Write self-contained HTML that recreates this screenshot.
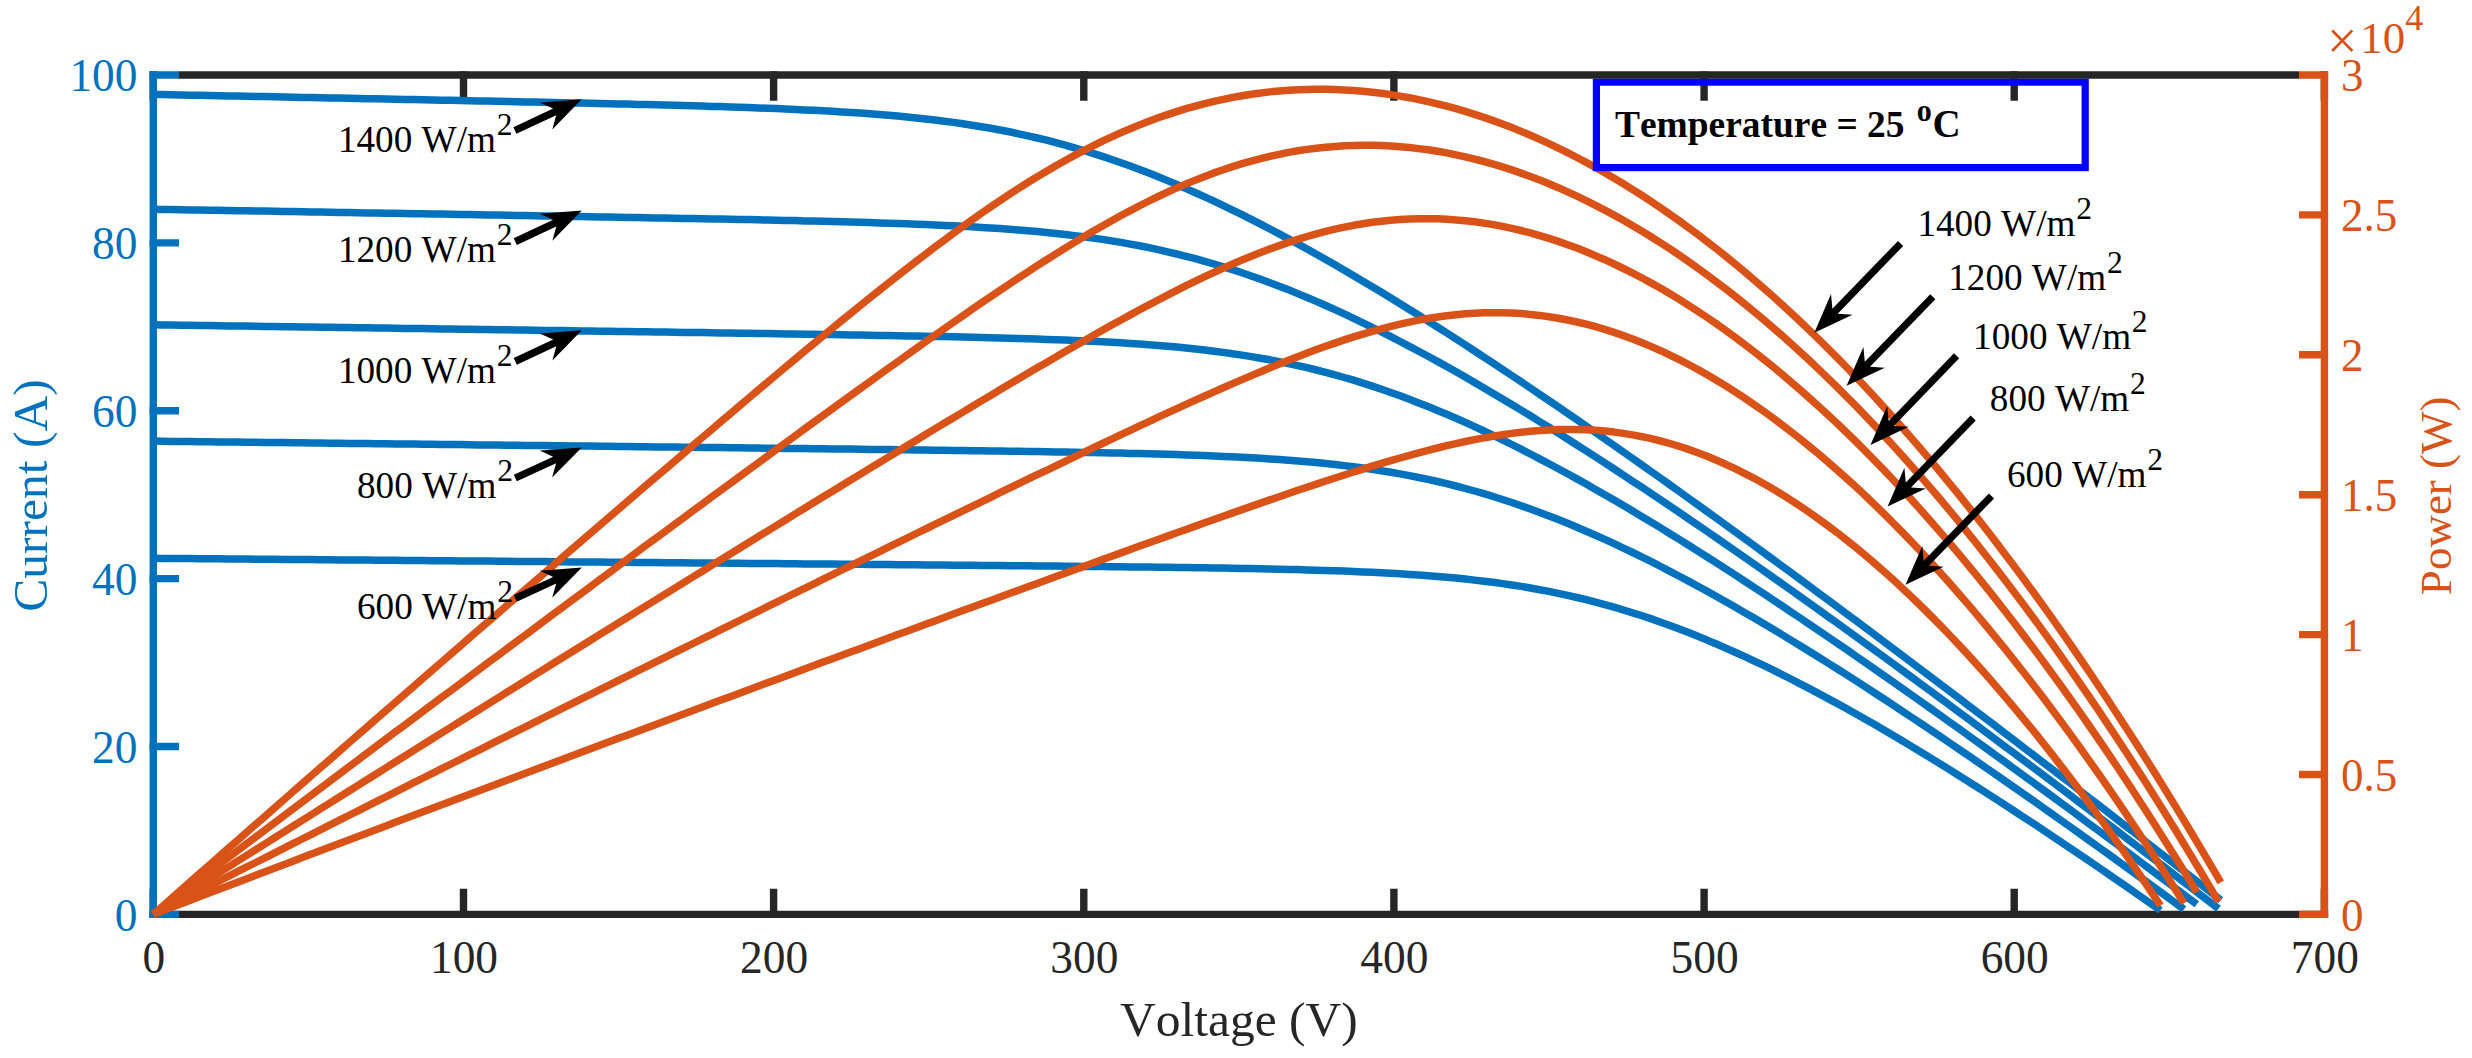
<!DOCTYPE html>
<html lang="en"><head><meta charset="utf-8"><title>PV array I-V and P-V characteristics</title>
<style>html,body{margin:0;padding:0;background:#fff}body{width:2472px;height:1058px;overflow:hidden}svg{display:block}text{font-family:"Liberation Serif","Times New Roman",Times,serif;font-kerning:none;font-variant-ligatures:none}</style></head><body>
<svg width="2472" height="1058" viewBox="0 0 2472 1058">
<rect width="2472" height="1058" fill="#fff"/>
<g stroke="#262626" stroke-width="7.4" fill="none">
<path d="M149.6 914.4 H2328.1"/>
<path d="M153.3 918.1 V888.7 M153.3 71.3 V100.7 M463.5 918.1 V888.7 M463.5 71.3 V100.7 M773.6 918.1 V888.7 M773.6 71.3 V100.7 M1083.8 918.1 V888.7 M1083.8 71.3 V100.7 M1393.9 918.1 V888.7 M1393.9 71.3 V100.7 M1704.1 918.1 V888.7 M1704.1 71.3 V100.7 M2014.2 918.1 V888.7 M2014.2 71.3 V100.7 M2324.4 918.1 V888.7 M2324.4 71.3 V100.7"/>
</g>
<g stroke="#0072BD" stroke-width="7.4" fill="none">
<path d="M153.3 71.3 V918.1"/>
<path d="M149.6 914.4 H179.0 M149.6 746.5 H179.0 M149.6 578.6 H179.0 M149.6 410.8 H179.0 M149.6 242.9 H179.0 M149.6 75.0 H179.0"/>
</g>
<g stroke="#D95319" stroke-width="7.4" fill="none">
<path d="M2324.4 71.3 V918.1"/>
<path d="M2328.1 914.4 H2299.0 M2328.1 774.5 H2299.0 M2328.1 634.6 H2299.0 M2328.1 494.7 H2299.0 M2328.1 354.8 H2299.0 M2328.1 214.9 H2299.0 M2328.1 75.0 H2299.0"/>
</g>
<g stroke="#0072BD" stroke-width="7.5" fill="none" stroke-linejoin="round">
<path d="M153.3 558.3 L162.6 558.4 L171.9 558.4 L181.2 558.5 L190.5 558.6 L199.8 558.7 L209.1 558.8 L218.4 558.8 L227.7 558.9 L237.0 559.0 L246.3 559.1 L255.7 559.2 L265.0 559.2 L274.3 559.3 L283.6 559.4 L292.9 559.5 L302.2 559.6 L311.5 559.6 L320.8 559.7 L330.1 559.8 L339.4 559.9 L348.7 559.9 L358.0 560.0 L367.3 560.1 L376.6 560.2 L385.9 560.3 L395.2 560.3 L404.5 560.4 L413.8 560.5 L423.1 560.6 L432.4 560.7 L441.7 560.7 L451.1 560.8 L460.4 560.9 L469.7 561.0 L479.0 561.1 L488.3 561.1 L497.6 561.2 L506.9 561.3 L516.2 561.4 L525.5 561.5 L534.8 561.5 L544.1 561.6 L553.4 561.7 L562.7 561.8 L572.0 561.9 L581.3 561.9 L590.6 562.0 L599.9 562.1 L609.2 562.2 L618.5 562.3 L627.8 562.3 L637.1 562.4 L646.4 562.5 L655.8 562.6 L665.1 562.7 L674.4 562.7 L683.7 562.8 L693.0 562.9 L702.3 563.0 L711.6 563.1 L720.9 563.1 L730.2 563.2 L739.5 563.3 L748.8 563.4 L758.1 563.5 L767.4 563.5 L776.7 563.6 L786.0 563.7 L795.3 563.8 L804.6 563.9 L813.9 563.9 L823.2 564.0 L832.5 564.1 L841.8 564.2 L851.2 564.3 L860.5 564.3 L869.8 564.4 L879.1 564.5 L888.4 564.6 L897.7 564.7 L907.0 564.8 L916.3 564.8 L925.6 564.9 L934.9 565.0 L944.2 565.1 L953.5 565.2 L962.8 565.3 L972.1 565.3 L981.4 565.4 L990.7 565.5 L1000.0 565.6 L1009.3 565.7 L1018.6 565.8 L1027.9 565.8 L1037.2 565.9 L1046.6 566.0 L1055.9 566.1 L1065.2 566.2 L1074.5 566.3 L1083.8 566.4 L1093.1 566.5 L1102.4 566.6 L1111.7 566.7 L1121.0 566.8 L1130.3 566.9 L1139.6 567.0 L1148.9 567.1 L1158.2 567.2 L1167.5 567.3 L1176.8 567.4 L1186.1 567.6 L1195.4 567.7 L1204.7 567.8 L1214.0 568.0 L1223.3 568.1 L1232.6 568.3 L1242.0 568.4 L1251.3 568.6 L1260.6 568.8 L1269.9 569.0 L1279.2 569.2 L1288.5 569.4 L1297.8 569.6 L1307.1 569.9 L1316.4 570.2 L1325.7 570.4 L1335.0 570.8 L1344.3 571.1 L1353.6 571.5 L1362.9 571.9 L1372.2 572.3 L1381.5 572.7 L1390.8 573.2 L1400.1 573.8 L1409.4 574.4 L1418.7 575.0 L1428.0 575.7 L1437.4 576.4 L1446.7 577.2 L1456.0 578.1 L1465.3 579.0 L1474.6 580.1 L1483.9 581.2 L1493.2 582.3 L1502.5 583.6 L1511.8 585.0 L1521.1 586.4 L1530.4 588.0 L1539.7 589.7 L1549.0 591.4 L1558.3 593.3 L1567.6 595.4 L1576.9 597.5 L1586.2 599.7 L1595.5 602.1 L1604.8 604.6 L1614.1 607.2 L1623.4 610.0 L1632.7 612.8 L1642.1 615.8 L1651.4 618.9 L1660.7 622.2 L1670.0 625.5 L1679.3 629.0 L1688.6 632.6 L1697.9 636.3 L1707.2 640.1 L1716.5 644.0 L1725.8 648.1 L1735.1 652.2 L1744.4 656.4 L1753.7 660.8 L1763.0 665.2 L1772.3 669.7 L1781.6 674.3 L1790.9 679.0 L1800.2 683.8 L1809.5 688.6 L1818.8 693.6 L1828.1 698.6 L1837.5 703.6 L1846.8 708.8 L1856.1 714.0 L1865.4 719.3 L1874.7 724.6 L1884.0 730.0 L1893.3 735.5 L1902.6 741.0 L1911.9 746.6 L1921.2 752.2 L1930.5 757.9 L1939.8 763.6 L1949.1 769.4 L1958.4 775.2 L1967.7 781.1 L1977.0 787.0 L1986.3 792.9 L1995.6 798.9 L2004.9 804.9 L2014.2 811.0 L2023.5 817.1 L2032.9 823.2 L2042.2 829.4 L2051.5 835.6 L2060.8 841.8 L2070.1 848.1 L2079.4 854.4 L2088.7 860.7 L2098.0 867.0 L2107.3 873.4 L2116.6 879.8 L2125.9 886.2 L2135.2 892.7 L2144.5 899.2 L2153.8 905.7 L2160.5 910.4"/>
<path d="M153.3 441.1 L162.6 441.3 L171.9 441.4 L181.2 441.5 L190.5 441.6 L199.8 441.7 L209.1 441.8 L218.4 441.9 L227.7 442.0 L237.0 442.1 L246.3 442.2 L255.7 442.3 L265.0 442.4 L274.3 442.5 L283.6 442.6 L292.9 442.7 L302.2 442.8 L311.5 443.0 L320.8 443.1 L330.1 443.2 L339.4 443.3 L348.7 443.4 L358.0 443.5 L367.3 443.6 L376.6 443.7 L385.9 443.8 L395.2 443.9 L404.5 444.0 L413.8 444.1 L423.1 444.2 L432.4 444.3 L441.7 444.4 L451.1 444.5 L460.4 444.6 L469.7 444.8 L479.0 444.9 L488.3 445.0 L497.6 445.1 L506.9 445.2 L516.2 445.3 L525.5 445.4 L534.8 445.5 L544.1 445.6 L553.4 445.7 L562.7 445.8 L572.0 445.9 L581.3 446.0 L590.6 446.1 L599.9 446.2 L609.2 446.3 L618.5 446.5 L627.8 446.6 L637.1 446.7 L646.4 446.8 L655.8 446.9 L665.1 447.0 L674.4 447.1 L683.7 447.2 L693.0 447.3 L702.3 447.4 L711.6 447.5 L720.9 447.6 L730.2 447.7 L739.5 447.8 L748.8 447.9 L758.1 448.1 L767.4 448.2 L776.7 448.3 L786.0 448.4 L795.3 448.5 L804.6 448.6 L813.9 448.7 L823.2 448.8 L832.5 448.9 L841.8 449.0 L851.2 449.1 L860.5 449.3 L869.8 449.4 L879.1 449.5 L888.4 449.6 L897.7 449.7 L907.0 449.8 L916.3 449.9 L925.6 450.1 L934.9 450.2 L944.2 450.3 L953.5 450.4 L962.8 450.5 L972.1 450.7 L981.4 450.8 L990.7 450.9 L1000.0 451.0 L1009.3 451.2 L1018.6 451.3 L1027.9 451.5 L1037.2 451.6 L1046.6 451.7 L1055.9 451.9 L1065.2 452.1 L1074.5 452.2 L1083.8 452.4 L1093.1 452.6 L1102.4 452.8 L1111.7 452.9 L1121.0 453.1 L1130.3 453.4 L1139.6 453.6 L1148.9 453.8 L1158.2 454.1 L1167.5 454.3 L1176.8 454.6 L1186.1 454.9 L1195.4 455.3 L1204.7 455.6 L1214.0 456.0 L1223.3 456.4 L1232.6 456.8 L1242.0 457.3 L1251.3 457.8 L1260.6 458.3 L1269.9 458.9 L1279.2 459.5 L1288.5 460.2 L1297.8 460.9 L1307.1 461.7 L1316.4 462.6 L1325.7 463.5 L1335.0 464.5 L1344.3 465.6 L1353.6 466.7 L1362.9 468.0 L1372.2 469.3 L1381.5 470.7 L1390.8 472.3 L1400.1 473.9 L1409.4 475.6 L1418.7 477.5 L1428.0 479.4 L1437.4 481.5 L1446.7 483.7 L1456.0 486.0 L1465.3 488.5 L1474.6 491.0 L1483.9 493.7 L1493.2 496.5 L1502.5 499.5 L1511.8 502.5 L1521.1 505.7 L1530.4 509.0 L1539.7 512.4 L1549.0 515.9 L1558.3 519.6 L1567.6 523.3 L1576.9 527.2 L1586.2 531.2 L1595.5 535.2 L1604.8 539.4 L1614.1 543.7 L1623.4 548.1 L1632.7 552.5 L1642.1 557.1 L1651.4 561.7 L1660.7 566.5 L1670.0 571.3 L1679.3 576.2 L1688.6 581.1 L1697.9 586.2 L1707.2 591.3 L1716.5 596.5 L1725.8 601.7 L1735.1 607.0 L1744.4 612.4 L1753.7 617.8 L1763.0 623.3 L1772.3 628.8 L1781.6 634.4 L1790.9 640.1 L1800.2 645.8 L1809.5 651.5 L1818.8 657.3 L1828.1 663.1 L1837.5 669.0 L1846.8 674.9 L1856.1 680.9 L1865.4 686.9 L1874.7 693.0 L1884.0 699.0 L1893.3 705.1 L1902.6 711.3 L1911.9 717.5 L1921.2 723.7 L1930.5 729.9 L1939.8 736.2 L1949.1 742.5 L1958.4 748.8 L1967.7 755.2 L1977.0 761.6 L1986.3 768.0 L1995.6 774.4 L2004.9 780.9 L2014.2 787.4 L2023.5 793.9 L2032.9 800.4 L2042.2 807.0 L2051.5 813.6 L2060.8 820.2 L2070.1 826.8 L2079.4 833.4 L2088.7 840.1 L2098.0 846.7 L2107.3 853.4 L2116.6 860.1 L2125.9 866.9 L2135.2 873.6 L2144.5 880.4 L2153.8 887.1 L2163.1 893.9 L2172.4 900.8 L2181.7 907.6 L2184.1 909.3"/>
<path d="M153.3 324.8 L162.6 324.9 L171.9 325.1 L181.2 325.2 L190.5 325.3 L199.8 325.5 L209.1 325.6 L218.4 325.7 L227.7 325.9 L237.0 326.0 L246.3 326.1 L255.7 326.3 L265.0 326.4 L274.3 326.5 L283.6 326.7 L292.9 326.8 L302.2 326.9 L311.5 327.0 L320.8 327.2 L330.1 327.3 L339.4 327.4 L348.7 327.6 L358.0 327.7 L367.3 327.8 L376.6 328.0 L385.9 328.1 L395.2 328.2 L404.5 328.4 L413.8 328.5 L423.1 328.6 L432.4 328.8 L441.7 328.9 L451.1 329.0 L460.4 329.2 L469.7 329.3 L479.0 329.4 L488.3 329.6 L497.6 329.7 L506.9 329.8 L516.2 330.0 L525.5 330.1 L534.8 330.2 L544.1 330.4 L553.4 330.5 L562.7 330.6 L572.0 330.8 L581.3 330.9 L590.6 331.0 L599.9 331.2 L609.2 331.3 L618.5 331.4 L627.8 331.6 L637.1 331.7 L646.4 331.8 L655.8 332.0 L665.1 332.1 L674.4 332.2 L683.7 332.4 L693.0 332.5 L702.3 332.6 L711.6 332.8 L720.9 332.9 L730.2 333.0 L739.5 333.2 L748.8 333.3 L758.1 333.5 L767.4 333.6 L776.7 333.7 L786.0 333.9 L795.3 334.0 L804.6 334.2 L813.9 334.3 L823.2 334.5 L832.5 334.6 L841.8 334.8 L851.2 334.9 L860.5 335.1 L869.8 335.2 L879.1 335.4 L888.4 335.6 L897.7 335.7 L907.0 335.9 L916.3 336.1 L925.6 336.3 L934.9 336.4 L944.2 336.6 L953.5 336.8 L962.8 337.0 L972.1 337.3 L981.4 337.5 L990.7 337.7 L1000.0 338.0 L1009.3 338.2 L1018.6 338.5 L1027.9 338.8 L1037.2 339.1 L1046.6 339.4 L1055.9 339.7 L1065.2 340.1 L1074.5 340.5 L1083.8 340.9 L1093.1 341.3 L1102.4 341.8 L1111.7 342.3 L1121.0 342.8 L1130.3 343.4 L1139.6 344.1 L1148.9 344.7 L1158.2 345.5 L1167.5 346.3 L1176.8 347.1 L1186.1 348.0 L1195.4 349.0 L1204.7 350.0 L1214.0 351.2 L1223.3 352.4 L1232.6 353.7 L1242.0 355.1 L1251.3 356.6 L1260.6 358.2 L1269.9 359.8 L1279.2 361.7 L1288.5 363.6 L1297.8 365.6 L1307.1 367.7 L1316.4 370.0 L1325.7 372.4 L1335.0 374.9 L1344.3 377.5 L1353.6 380.2 L1362.9 383.1 L1372.2 386.1 L1381.5 389.2 L1390.8 392.5 L1400.1 395.8 L1409.4 399.3 L1418.7 402.9 L1428.0 406.6 L1437.4 410.4 L1446.7 414.3 L1456.0 418.3 L1465.3 422.4 L1474.6 426.7 L1483.9 431.0 L1493.2 435.4 L1502.5 439.9 L1511.8 444.5 L1521.1 449.2 L1530.4 454.0 L1539.7 458.8 L1549.0 463.7 L1558.3 468.7 L1567.6 473.8 L1576.9 478.9 L1586.2 484.1 L1595.5 489.4 L1604.8 494.7 L1614.1 500.1 L1623.4 505.6 L1632.7 511.1 L1642.1 516.7 L1651.4 522.3 L1660.7 527.9 L1670.0 533.7 L1679.3 539.4 L1688.6 545.2 L1697.9 551.1 L1707.2 557.0 L1716.5 562.9 L1725.8 568.9 L1735.1 574.9 L1744.4 581.0 L1753.7 587.1 L1763.0 593.2 L1772.3 599.4 L1781.6 605.5 L1790.9 611.8 L1800.2 618.0 L1809.5 624.3 L1818.8 630.6 L1828.1 637.0 L1837.5 643.3 L1846.8 649.7 L1856.1 656.2 L1865.4 662.6 L1874.7 669.1 L1884.0 675.6 L1893.3 682.1 L1902.6 688.6 L1911.9 695.2 L1921.2 701.8 L1930.5 708.4 L1939.8 715.0 L1949.1 721.7 L1958.4 728.3 L1967.7 735.0 L1977.0 741.7 L1986.3 748.4 L1995.6 755.2 L2004.9 761.9 L2014.2 768.7 L2023.5 775.5 L2032.9 782.3 L2042.2 789.1 L2051.5 795.9 L2060.8 802.7 L2070.1 809.6 L2079.4 816.5 L2088.7 823.4 L2098.0 830.3 L2107.3 837.2 L2116.6 844.1 L2125.9 851.0 L2135.2 858.0 L2144.5 864.9 L2153.8 871.9 L2163.1 878.9 L2172.4 885.9 L2181.7 892.9 L2191.0 899.9 L2196.8 904.2"/>
<path d="M153.3 209.2 L162.6 209.4 L171.9 209.5 L181.2 209.7 L190.5 209.9 L199.8 210.0 L209.1 210.2 L218.4 210.3 L227.7 210.5 L237.0 210.7 L246.3 210.8 L255.7 211.0 L265.0 211.1 L274.3 211.3 L283.6 211.4 L292.9 211.6 L302.2 211.8 L311.5 211.9 L320.8 212.1 L330.1 212.2 L339.4 212.4 L348.7 212.5 L358.0 212.7 L367.3 212.9 L376.6 213.0 L385.9 213.2 L395.2 213.3 L404.5 213.5 L413.8 213.7 L423.1 213.8 L432.4 214.0 L441.7 214.1 L451.1 214.3 L460.4 214.5 L469.7 214.6 L479.0 214.8 L488.3 214.9 L497.6 215.1 L506.9 215.3 L516.2 215.4 L525.5 215.6 L534.8 215.7 L544.1 215.9 L553.4 216.1 L562.7 216.2 L572.0 216.4 L581.3 216.5 L590.6 216.7 L599.9 216.9 L609.2 217.0 L618.5 217.2 L627.8 217.4 L637.1 217.5 L646.4 217.7 L655.8 217.9 L665.1 218.0 L674.4 218.2 L683.7 218.4 L693.0 218.6 L702.3 218.7 L711.6 218.9 L720.9 219.1 L730.2 219.3 L739.5 219.5 L748.8 219.6 L758.1 219.8 L767.4 220.0 L776.7 220.2 L786.0 220.4 L795.3 220.6 L804.6 220.9 L813.9 221.1 L823.2 221.3 L832.5 221.5 L841.8 221.8 L851.2 222.0 L860.5 222.3 L869.8 222.6 L879.1 222.9 L888.4 223.2 L897.7 223.5 L907.0 223.8 L916.3 224.2 L925.6 224.6 L934.9 225.0 L944.2 225.4 L953.5 225.8 L962.8 226.3 L972.1 226.8 L981.4 227.4 L990.7 228.0 L1000.0 228.6 L1009.3 229.3 L1018.6 230.0 L1027.9 230.8 L1037.2 231.6 L1046.6 232.5 L1055.9 233.5 L1065.2 234.5 L1074.5 235.6 L1083.8 236.8 L1093.1 238.1 L1102.4 239.4 L1111.7 240.9 L1121.0 242.4 L1130.3 244.1 L1139.6 245.8 L1148.9 247.7 L1158.2 249.7 L1167.5 251.8 L1176.8 254.0 L1186.1 256.3 L1195.4 258.7 L1204.7 261.3 L1214.0 264.0 L1223.3 266.8 L1232.6 269.7 L1242.0 272.8 L1251.3 276.0 L1260.6 279.3 L1269.9 282.7 L1279.2 286.2 L1288.5 289.8 L1297.8 293.6 L1307.1 297.5 L1316.4 301.4 L1325.7 305.5 L1335.0 309.7 L1344.3 313.9 L1353.6 318.3 L1362.9 322.8 L1372.2 327.3 L1381.5 331.9 L1390.8 336.7 L1400.1 341.5 L1409.4 346.3 L1418.7 351.3 L1428.0 356.3 L1437.4 361.4 L1446.7 366.6 L1456.0 371.8 L1465.3 377.1 L1474.6 382.5 L1483.9 387.9 L1493.2 393.4 L1502.5 398.9 L1511.8 404.5 L1521.1 410.1 L1530.4 415.8 L1539.7 421.6 L1549.0 427.3 L1558.3 433.2 L1567.6 439.0 L1576.9 445.0 L1586.2 450.9 L1595.5 456.9 L1604.8 462.9 L1614.1 469.0 L1623.4 475.1 L1632.7 481.3 L1642.1 487.4 L1651.4 493.6 L1660.7 499.9 L1670.0 506.1 L1679.3 512.4 L1688.6 518.8 L1697.9 525.1 L1707.2 531.5 L1716.5 537.9 L1725.8 544.3 L1735.1 550.8 L1744.4 557.3 L1753.7 563.8 L1763.0 570.3 L1772.3 576.9 L1781.6 583.4 L1790.9 590.0 L1800.2 596.6 L1809.5 603.3 L1818.8 609.9 L1828.1 616.6 L1837.5 623.3 L1846.8 630.0 L1856.1 636.7 L1865.4 643.5 L1874.7 650.2 L1884.0 657.0 L1893.3 663.8 L1902.6 670.6 L1911.9 677.4 L1921.2 684.2 L1930.5 691.1 L1939.8 697.9 L1949.1 704.8 L1958.4 711.7 L1967.7 718.6 L1977.0 725.5 L1986.3 732.5 L1995.6 739.4 L2004.9 746.4 L2014.2 753.3 L2023.5 760.3 L2032.9 767.3 L2042.2 774.3 L2051.5 781.3 L2060.8 788.3 L2070.1 795.3 L2079.4 802.4 L2088.7 809.4 L2098.0 816.5 L2107.3 823.5 L2116.6 830.6 L2125.9 837.7 L2135.2 844.8 L2144.5 851.9 L2153.8 859.0 L2163.1 866.1 L2172.4 873.3 L2181.7 880.4 L2191.0 887.5 L2200.3 894.7 L2209.6 901.8 L2218.5 908.7"/>
<path d="M153.3 94.4 L162.6 94.6 L171.9 94.8 L181.2 95.0 L190.5 95.2 L199.8 95.3 L209.1 95.5 L218.4 95.7 L227.7 95.9 L237.0 96.1 L246.3 96.3 L255.7 96.4 L265.0 96.6 L274.3 96.8 L283.6 97.0 L292.9 97.2 L302.2 97.4 L311.5 97.5 L320.8 97.7 L330.1 97.9 L339.4 98.1 L348.7 98.3 L358.0 98.5 L367.3 98.7 L376.6 98.8 L385.9 99.0 L395.2 99.2 L404.5 99.4 L413.8 99.6 L423.1 99.8 L432.4 100.0 L441.7 100.2 L451.1 100.3 L460.4 100.5 L469.7 100.7 L479.0 100.9 L488.3 101.1 L497.6 101.3 L506.9 101.5 L516.2 101.7 L525.5 101.9 L534.8 102.1 L544.1 102.3 L553.4 102.5 L562.7 102.7 L572.0 102.9 L581.3 103.1 L590.6 103.3 L599.9 103.5 L609.2 103.7 L618.5 103.9 L627.8 104.1 L637.1 104.4 L646.4 104.6 L655.8 104.8 L665.1 105.1 L674.4 105.3 L683.7 105.6 L693.0 105.8 L702.3 106.1 L711.6 106.4 L720.9 106.6 L730.2 106.9 L739.5 107.2 L748.8 107.6 L758.1 107.9 L767.4 108.3 L776.7 108.6 L786.0 109.0 L795.3 109.4 L804.6 109.9 L813.9 110.3 L823.2 110.8 L832.5 111.3 L841.8 111.9 L851.2 112.5 L860.5 113.1 L869.8 113.8 L879.1 114.5 L888.4 115.3 L897.7 116.1 L907.0 117.0 L916.3 117.9 L925.6 118.9 L934.9 120.0 L944.2 121.2 L953.5 122.4 L962.8 123.8 L972.1 125.2 L981.4 126.7 L990.7 128.3 L1000.0 130.0 L1009.3 131.8 L1018.6 133.8 L1027.9 135.8 L1037.2 138.0 L1046.6 140.2 L1055.9 142.6 L1065.2 145.1 L1074.5 147.8 L1083.8 150.5 L1093.1 153.4 L1102.4 156.4 L1111.7 159.5 L1121.0 162.7 L1130.3 166.1 L1139.6 169.6 L1148.9 173.1 L1158.2 176.8 L1167.5 180.6 L1176.8 184.5 L1186.1 188.6 L1195.4 192.7 L1204.7 196.9 L1214.0 201.2 L1223.3 205.6 L1232.6 210.1 L1242.0 214.7 L1251.3 219.4 L1260.6 224.1 L1269.9 229.0 L1279.2 233.9 L1288.5 238.9 L1297.8 243.9 L1307.1 249.1 L1316.4 254.3 L1325.7 259.5 L1335.0 264.8 L1344.3 270.2 L1353.6 275.7 L1362.9 281.2 L1372.2 286.7 L1381.5 292.3 L1390.8 298.0 L1400.1 303.7 L1409.4 309.5 L1418.7 315.3 L1428.0 321.1 L1437.4 327.0 L1446.7 332.9 L1456.0 338.9 L1465.3 344.9 L1474.6 351.0 L1483.9 357.1 L1493.2 363.2 L1502.5 369.3 L1511.8 375.5 L1521.1 381.7 L1530.4 388.0 L1539.7 394.3 L1549.0 400.6 L1558.3 406.9 L1567.6 413.3 L1576.9 419.7 L1586.2 426.1 L1595.5 432.5 L1604.8 439.0 L1614.1 445.5 L1623.4 452.0 L1632.7 458.5 L1642.1 465.1 L1651.4 471.7 L1660.7 478.3 L1670.0 484.9 L1679.3 491.5 L1688.6 498.2 L1697.9 504.9 L1707.2 511.6 L1716.5 518.3 L1725.8 525.0 L1735.1 531.8 L1744.4 538.5 L1753.7 545.3 L1763.0 552.1 L1772.3 558.9 L1781.6 565.7 L1790.9 572.6 L1800.2 579.4 L1809.5 586.3 L1818.8 593.2 L1828.1 600.1 L1837.5 607.0 L1846.8 613.9 L1856.1 620.8 L1865.4 627.8 L1874.7 634.7 L1884.0 641.7 L1893.3 648.7 L1902.6 655.7 L1911.9 662.7 L1921.2 669.7 L1930.5 676.7 L1939.8 683.7 L1949.1 690.8 L1958.4 697.8 L1967.7 704.9 L1977.0 712.0 L1986.3 719.0 L1995.6 726.1 L2004.9 733.2 L2014.2 740.3 L2023.5 747.4 L2032.9 754.6 L2042.2 761.7 L2051.5 768.8 L2060.8 776.0 L2070.1 783.1 L2079.4 790.3 L2088.7 797.5 L2098.0 804.6 L2107.3 811.8 L2116.6 819.0 L2125.9 826.2 L2135.2 833.4 L2144.5 840.6 L2153.8 847.9 L2163.1 855.1 L2172.4 862.3 L2181.7 869.6 L2191.0 876.8 L2200.3 884.0 L2209.6 891.3 L2218.9 898.6 L2220.8 900.0"/>
</g>
<g stroke="#D95319" stroke-width="7.5" fill="none" stroke-linejoin="round">
<path d="M153.3 914.4 L162.6 910.8 L171.9 907.3 L181.2 903.7 L190.5 900.2 L199.8 896.6 L209.1 893.1 L218.4 889.5 L227.7 886.0 L237.0 882.4 L246.3 878.9 L255.7 875.3 L265.0 871.8 L274.3 868.2 L283.6 864.7 L292.9 861.2 L302.2 857.6 L311.5 854.1 L320.8 850.6 L330.1 847.0 L339.4 843.5 L348.7 840.0 L358.0 836.4 L367.3 832.9 L376.6 829.4 L385.9 825.9 L395.2 822.3 L404.5 818.8 L413.8 815.3 L423.1 811.8 L432.4 808.3 L441.7 804.8 L451.1 801.3 L460.4 797.7 L469.7 794.2 L479.0 790.7 L488.3 787.2 L497.6 783.7 L506.9 780.2 L516.2 776.7 L525.5 773.2 L534.8 769.7 L544.1 766.2 L553.4 762.7 L562.7 759.2 L572.0 755.8 L581.3 752.3 L590.6 748.8 L599.9 745.3 L609.2 741.8 L618.5 738.3 L627.8 734.9 L637.1 731.4 L646.4 727.9 L655.8 724.4 L665.1 720.9 L674.4 717.5 L683.7 714.0 L693.0 710.5 L702.3 707.1 L711.6 703.6 L720.9 700.1 L730.2 696.7 L739.5 693.2 L748.8 689.7 L758.1 686.3 L767.4 682.8 L776.7 679.4 L786.0 675.9 L795.3 672.5 L804.6 669.0 L813.9 665.6 L823.2 662.1 L832.5 658.7 L841.8 655.2 L851.2 651.8 L860.5 648.4 L869.8 644.9 L879.1 641.5 L888.4 638.1 L897.7 634.6 L907.0 631.2 L916.3 627.8 L925.6 624.3 L934.9 620.9 L944.2 617.5 L953.5 614.1 L962.8 610.6 L972.1 607.2 L981.4 603.8 L990.7 600.4 L1000.0 597.0 L1009.3 593.6 L1018.6 590.2 L1027.9 586.8 L1037.2 583.4 L1046.6 580.0 L1055.9 576.6 L1065.2 573.2 L1074.5 569.8 L1083.8 566.4 L1093.1 563.0 L1102.4 559.6 L1111.7 556.2 L1121.0 552.9 L1130.3 549.5 L1139.6 546.1 L1148.9 542.8 L1158.2 539.4 L1167.5 536.1 L1176.8 532.8 L1186.1 529.4 L1195.4 526.1 L1204.7 522.8 L1214.0 519.5 L1223.3 516.2 L1232.6 512.9 L1242.0 509.6 L1251.3 506.4 L1260.6 503.1 L1269.9 499.9 L1279.2 496.7 L1288.5 493.5 L1297.8 490.3 L1307.1 487.2 L1316.4 484.1 L1325.7 481.0 L1335.0 478.0 L1344.3 475.0 L1353.6 472.0 L1362.9 469.1 L1372.2 466.2 L1381.5 463.4 L1390.8 460.6 L1400.1 458.0 L1409.4 455.3 L1418.7 452.8 L1428.0 450.3 L1437.4 448.0 L1446.7 445.7 L1456.0 443.6 L1465.3 441.5 L1474.6 439.6 L1483.9 437.9 L1493.2 436.2 L1502.5 434.7 L1511.8 433.4 L1521.1 432.3 L1530.4 431.3 L1539.7 430.5 L1549.0 430.0 L1558.3 429.6 L1567.6 429.5 L1576.9 429.5 L1586.2 429.8 L1595.5 430.3 L1604.8 431.1 L1614.1 432.1 L1623.4 433.4 L1632.7 434.9 L1642.1 436.7 L1651.4 438.7 L1660.7 441.0 L1670.0 443.5 L1679.3 446.3 L1688.6 449.4 L1697.9 452.7 L1707.2 456.3 L1716.5 460.2 L1725.8 464.3 L1735.1 468.7 L1744.4 473.3 L1753.7 478.1 L1763.0 483.3 L1772.3 488.6 L1781.6 494.2 L1790.9 500.1 L1800.2 506.2 L1809.5 512.5 L1818.8 519.1 L1828.1 525.9 L1837.5 532.9 L1846.8 540.2 L1856.1 547.7 L1865.4 555.4 L1874.7 563.3 L1884.0 571.5 L1893.3 579.8 L1902.6 588.4 L1911.9 597.2 L1921.2 606.2 L1930.5 615.5 L1939.8 624.9 L1949.1 634.5 L1958.4 644.4 L1967.7 654.4 L1977.0 664.6 L1986.3 675.1 L1995.6 685.7 L2004.9 696.6 L2014.2 707.6 L2023.5 718.8 L2032.9 730.2 L2042.2 741.8 L2051.5 753.6 L2060.8 765.6 L2070.1 777.8 L2079.4 790.1 L2088.7 802.7 L2098.0 815.4 L2107.3 828.3 L2116.6 841.4 L2125.9 854.7 L2135.2 868.2 L2144.5 881.8 L2153.8 895.7 L2160.5 905.7"/>
<path d="M153.3 914.4 L162.6 909.7 L171.9 904.9 L181.2 900.2 L190.5 895.5 L199.8 890.8 L209.1 886.0 L218.4 881.3 L227.7 876.6 L237.0 871.9 L246.3 867.2 L255.7 862.5 L265.0 857.8 L274.3 853.1 L283.6 848.4 L292.9 843.7 L302.2 839.0 L311.5 834.3 L320.8 829.6 L330.1 824.9 L339.4 820.2 L348.7 815.5 L358.0 810.8 L367.3 806.1 L376.6 801.4 L385.9 796.8 L395.2 792.1 L404.5 787.4 L413.8 782.7 L423.1 778.0 L432.4 773.4 L441.7 768.7 L451.1 764.0 L460.4 759.4 L469.7 754.7 L479.0 750.1 L488.3 745.4 L497.6 740.7 L506.9 736.1 L516.2 731.4 L525.5 726.8 L534.8 722.2 L544.1 717.5 L553.4 712.9 L562.7 708.2 L572.0 703.6 L581.3 698.9 L590.6 694.3 L599.9 689.7 L609.2 685.1 L618.5 680.4 L627.8 675.8 L637.1 671.2 L646.4 666.6 L655.8 661.9 L665.1 657.3 L674.4 652.7 L683.7 648.1 L693.0 643.5 L702.3 638.9 L711.6 634.3 L720.9 629.7 L730.2 625.1 L739.5 620.5 L748.8 615.9 L758.1 611.3 L767.4 606.7 L776.7 602.1 L786.0 597.5 L795.3 592.9 L804.6 588.3 L813.9 583.8 L823.2 579.2 L832.5 574.6 L841.8 570.0 L851.2 565.5 L860.5 560.9 L869.8 556.3 L879.1 551.8 L888.4 547.2 L897.7 542.6 L907.0 538.1 L916.3 533.5 L925.6 529.0 L934.9 524.4 L944.2 519.9 L953.5 515.4 L962.8 510.8 L972.1 506.3 L981.4 501.8 L990.7 497.3 L1000.0 492.7 L1009.3 488.2 L1018.6 483.7 L1027.9 479.2 L1037.2 474.7 L1046.6 470.3 L1055.9 465.8 L1065.2 461.3 L1074.5 456.8 L1083.8 452.4 L1093.1 447.9 L1102.4 443.5 L1111.7 439.1 L1121.0 434.7 L1130.3 430.3 L1139.6 425.9 L1148.9 421.6 L1158.2 417.2 L1167.5 412.9 L1176.8 408.6 L1186.1 404.4 L1195.4 400.2 L1204.7 396.0 L1214.0 391.8 L1223.3 387.7 L1232.6 383.6 L1242.0 379.6 L1251.3 375.6 L1260.6 371.7 L1269.9 367.8 L1279.2 364.0 L1288.5 360.3 L1297.8 356.7 L1307.1 353.1 L1316.4 349.6 L1325.7 346.3 L1335.0 343.1 L1344.3 339.9 L1353.6 336.9 L1362.9 334.1 L1372.2 331.3 L1381.5 328.8 L1390.8 326.4 L1400.1 324.1 L1409.4 322.1 L1418.7 320.2 L1428.0 318.5 L1437.4 317.0 L1446.7 315.8 L1456.0 314.7 L1465.3 313.8 L1474.6 313.2 L1483.9 312.8 L1493.2 312.7 L1502.5 312.7 L1511.8 313.0 L1521.1 313.6 L1530.4 314.4 L1539.7 315.4 L1549.0 316.7 L1558.3 318.2 L1567.6 320.0 L1576.9 322.0 L1586.2 324.2 L1595.5 326.7 L1604.8 329.4 L1614.1 332.4 L1623.4 335.6 L1632.7 339.0 L1642.1 342.7 L1651.4 346.6 L1660.7 350.7 L1670.0 355.1 L1679.3 359.7 L1688.6 364.5 L1697.9 369.5 L1707.2 374.8 L1716.5 380.3 L1725.8 385.9 L1735.1 391.8 L1744.4 397.9 L1753.7 404.3 L1763.0 410.8 L1772.3 417.5 L1781.6 424.4 L1790.9 431.6 L1800.2 438.9 L1809.5 446.5 L1818.8 454.2 L1828.1 462.1 L1837.5 470.3 L1846.8 478.6 L1856.1 487.1 L1865.4 495.8 L1874.7 504.7 L1884.0 513.8 L1893.3 523.1 L1902.6 532.5 L1911.9 542.2 L1921.2 552.0 L1930.5 562.0 L1939.8 572.2 L1949.1 582.6 L1958.4 593.2 L1967.7 603.9 L1977.0 614.9 L1986.3 626.0 L1995.6 637.3 L2004.9 648.7 L2014.2 660.4 L2023.5 672.2 L2032.9 684.2 L2042.2 696.3 L2051.5 708.7 L2060.8 721.2 L2070.1 733.9 L2079.4 746.7 L2088.7 759.8 L2098.0 773.0 L2107.3 786.4 L2116.6 799.9 L2125.9 813.6 L2135.2 827.5 L2144.5 841.6 L2153.8 855.8 L2163.1 870.2 L2172.4 884.8 L2181.7 899.5 L2184.1 903.3"/>
<path d="M153.3 914.4 L162.6 908.5 L171.9 902.6 L181.2 896.7 L190.5 890.8 L199.8 885.0 L209.1 879.1 L218.4 873.2 L227.7 867.3 L237.0 861.4 L246.3 855.6 L255.7 849.7 L265.0 843.8 L274.3 838.0 L283.6 832.1 L292.9 826.3 L302.2 820.4 L311.5 814.6 L320.8 808.7 L330.1 802.9 L339.4 797.0 L348.7 791.2 L358.0 785.3 L367.3 779.5 L376.6 773.7 L385.9 767.8 L395.2 762.0 L404.5 756.2 L413.8 750.3 L423.1 744.5 L432.4 738.7 L441.7 732.9 L451.1 727.1 L460.4 721.3 L469.7 715.5 L479.0 709.7 L488.3 703.9 L497.6 698.1 L506.9 692.3 L516.2 686.5 L525.5 680.7 L534.8 674.9 L544.1 669.1 L553.4 663.3 L562.7 657.5 L572.0 651.8 L581.3 646.0 L590.6 640.2 L599.9 634.4 L609.2 628.7 L618.5 622.9 L627.8 617.2 L637.1 611.4 L646.4 605.6 L655.8 599.9 L665.1 594.1 L674.4 588.4 L683.7 582.6 L693.0 576.9 L702.3 571.2 L711.6 565.4 L720.9 559.7 L730.2 554.0 L739.5 548.2 L748.8 542.5 L758.1 536.8 L767.4 531.1 L776.7 525.4 L786.0 519.7 L795.3 513.9 L804.6 508.2 L813.9 502.5 L823.2 496.8 L832.5 491.2 L841.8 485.5 L851.2 479.8 L860.5 474.1 L869.8 468.4 L879.1 462.8 L888.4 457.1 L897.7 451.5 L907.0 445.8 L916.3 440.2 L925.6 434.5 L934.9 428.9 L944.2 423.3 L953.5 417.7 L962.8 412.1 L972.1 406.5 L981.4 400.9 L990.7 395.4 L1000.0 389.8 L1009.3 384.3 L1018.6 378.8 L1027.9 373.3 L1037.2 367.8 L1046.6 362.4 L1055.9 357.0 L1065.2 351.6 L1074.5 346.2 L1083.8 340.9 L1093.1 335.6 L1102.4 330.3 L1111.7 325.1 L1121.0 320.0 L1130.3 314.9 L1139.6 309.8 L1148.9 304.9 L1158.2 300.0 L1167.5 295.1 L1176.8 290.4 L1186.1 285.7 L1195.4 281.1 L1204.7 276.7 L1214.0 272.3 L1223.3 268.1 L1232.6 264.0 L1242.0 260.0 L1251.3 256.2 L1260.6 252.5 L1269.9 248.9 L1279.2 245.6 L1288.5 242.4 L1297.8 239.4 L1307.1 236.5 L1316.4 233.9 L1325.7 231.4 L1335.0 229.2 L1344.3 227.2 L1353.6 225.3 L1362.9 223.7 L1372.2 222.3 L1381.5 221.2 L1390.8 220.2 L1400.1 219.5 L1409.4 219.0 L1418.7 218.7 L1428.0 218.7 L1437.4 218.8 L1446.7 219.3 L1456.0 219.9 L1465.3 220.7 L1474.6 221.8 L1483.9 223.1 L1493.2 224.6 L1502.5 226.4 L1511.8 228.4 L1521.1 230.5 L1530.4 232.9 L1539.7 235.6 L1549.0 238.4 L1558.3 241.4 L1567.6 244.7 L1576.9 248.1 L1586.2 251.8 L1595.5 255.7 L1604.8 259.7 L1614.1 264.0 L1623.4 268.5 L1632.7 273.1 L1642.1 278.0 L1651.4 283.1 L1660.7 288.3 L1670.0 293.8 L1679.3 299.4 L1688.6 305.3 L1697.9 311.3 L1707.2 317.5 L1716.5 323.9 L1725.8 330.5 L1735.1 337.3 L1744.4 344.2 L1753.7 351.4 L1763.0 358.7 L1772.3 366.2 L1781.6 373.9 L1790.9 381.8 L1800.2 389.8 L1809.5 398.1 L1818.8 406.5 L1828.1 415.0 L1837.5 423.8 L1846.8 432.7 L1856.1 441.8 L1865.4 451.1 L1874.7 460.6 L1884.0 470.2 L1893.3 480.0 L1902.6 490.0 L1911.9 500.1 L1921.2 510.4 L1930.5 520.9 L1939.8 531.6 L1949.1 542.4 L1958.4 553.4 L1967.7 564.6 L1977.0 575.9 L1986.3 587.4 L1995.6 599.1 L2004.9 611.0 L2014.2 623.0 L2023.5 635.1 L2032.9 647.5 L2042.2 660.0 L2051.5 672.7 L2060.8 685.5 L2070.1 698.5 L2079.4 711.7 L2088.7 725.0 L2098.0 738.5 L2107.3 752.2 L2116.6 766.0 L2125.9 780.0 L2135.2 794.2 L2144.5 808.5 L2153.8 823.0 L2163.1 837.7 L2172.4 852.5 L2181.7 867.5 L2191.0 882.6 L2196.8 892.1"/>
<path d="M153.3 914.4 L162.6 907.3 L171.9 900.3 L181.2 893.3 L190.5 886.2 L199.8 879.2 L209.1 872.1 L218.4 865.1 L227.7 858.1 L237.0 851.1 L246.3 844.0 L255.7 837.0 L265.0 830.0 L274.3 823.0 L283.6 816.0 L292.9 809.0 L302.2 802.0 L311.5 795.0 L320.8 788.0 L330.1 781.0 L339.4 774.0 L348.7 767.0 L358.0 760.0 L367.3 753.0 L376.6 746.1 L385.9 739.1 L395.2 732.1 L404.5 725.2 L413.8 718.2 L423.1 711.2 L432.4 704.3 L441.7 697.3 L451.1 690.4 L460.4 683.4 L469.7 676.5 L479.0 669.5 L488.3 662.6 L497.6 655.7 L506.9 648.7 L516.2 641.8 L525.5 634.9 L534.8 627.9 L544.1 621.0 L553.4 614.1 L562.7 607.2 L572.0 600.3 L581.3 593.4 L590.6 586.5 L599.9 579.6 L609.2 572.7 L618.5 565.8 L627.8 558.9 L637.1 552.0 L646.4 545.1 L655.8 538.3 L665.1 531.4 L674.4 524.5 L683.7 517.7 L693.0 510.8 L702.3 504.0 L711.6 497.1 L720.9 490.3 L730.2 483.4 L739.5 476.6 L748.8 469.8 L758.1 462.9 L767.4 456.1 L776.7 449.3 L786.0 442.5 L795.3 435.7 L804.6 428.9 L813.9 422.1 L823.2 415.4 L832.5 408.6 L841.8 401.9 L851.2 395.1 L860.5 388.4 L869.8 381.7 L879.1 375.0 L888.4 368.3 L897.7 361.7 L907.0 355.0 L916.3 348.4 L925.6 341.8 L934.9 335.3 L944.2 328.7 L953.5 322.2 L962.8 315.8 L972.1 309.3 L981.4 302.9 L990.7 296.6 L1000.0 290.3 L1009.3 284.1 L1018.6 277.9 L1027.9 271.8 L1037.2 265.7 L1046.6 259.8 L1055.9 253.9 L1065.2 248.1 L1074.5 242.4 L1083.8 236.8 L1093.1 231.3 L1102.4 225.9 L1111.7 220.7 L1121.0 215.5 L1130.3 210.6 L1139.6 205.7 L1148.9 201.0 L1158.2 196.5 L1167.5 192.1 L1176.8 187.9 L1186.1 183.9 L1195.4 180.1 L1204.7 176.4 L1214.0 172.9 L1223.3 169.7 L1232.6 166.6 L1242.0 163.7 L1251.3 161.1 L1260.6 158.6 L1269.9 156.3 L1279.2 154.3 L1288.5 152.4 L1297.8 150.8 L1307.1 149.4 L1316.4 148.2 L1325.7 147.2 L1335.0 146.4 L1344.3 145.8 L1353.6 145.4 L1362.9 145.3 L1372.2 145.3 L1381.5 145.5 L1390.8 146.0 L1400.1 146.7 L1409.4 147.5 L1418.7 148.6 L1428.0 149.8 L1437.4 151.3 L1446.7 152.9 L1456.0 154.8 L1465.3 156.8 L1474.6 159.1 L1483.9 161.5 L1493.2 164.1 L1502.5 166.9 L1511.8 169.9 L1521.1 173.1 L1530.4 176.5 L1539.7 180.1 L1549.0 183.8 L1558.3 187.7 L1567.6 191.9 L1576.9 196.2 L1586.2 200.6 L1595.5 205.3 L1604.8 210.1 L1614.1 215.1 L1623.4 220.3 L1632.7 225.7 L1642.1 231.3 L1651.4 237.0 L1660.7 242.9 L1670.0 248.9 L1679.3 255.2 L1688.6 261.6 L1697.9 268.2 L1707.2 275.0 L1716.5 281.9 L1725.8 289.0 L1735.1 296.3 L1744.4 303.7 L1753.7 311.4 L1763.0 319.1 L1772.3 327.1 L1781.6 335.2 L1790.9 343.5 L1800.2 352.0 L1809.5 360.6 L1818.8 369.4 L1828.1 378.4 L1837.5 387.5 L1846.8 396.8 L1856.1 406.2 L1865.4 415.9 L1874.7 425.7 L1884.0 435.6 L1893.3 445.7 L1902.6 456.0 L1911.9 466.5 L1921.2 477.1 L1930.5 487.9 L1939.8 498.8 L1949.1 509.9 L1958.4 521.2 L1967.7 532.6 L1977.0 544.2 L1986.3 556.0 L1995.6 567.9 L2004.9 580.0 L2014.2 592.2 L2023.5 604.6 L2032.9 617.2 L2042.2 629.9 L2051.5 642.8 L2060.8 655.9 L2070.1 669.1 L2079.4 682.5 L2088.7 696.0 L2098.0 709.7 L2107.3 723.6 L2116.6 737.6 L2125.9 751.8 L2135.2 766.1 L2144.5 780.6 L2153.8 795.3 L2163.1 810.1 L2172.4 825.1 L2181.7 840.3 L2191.0 855.6 L2200.3 871.0 L2209.6 886.7 L2218.5 901.7"/>
<path d="M153.3 914.4 L162.6 906.2 L171.9 898.0 L181.2 889.8 L190.5 881.6 L199.8 873.4 L209.1 865.3 L218.4 857.1 L227.7 848.9 L237.0 840.8 L246.3 832.6 L255.7 824.4 L265.0 816.3 L274.3 808.1 L283.6 800.0 L292.9 791.8 L302.2 783.7 L311.5 775.5 L320.8 767.4 L330.1 759.3 L339.4 751.1 L348.7 743.0 L358.0 734.9 L367.3 726.8 L376.6 718.7 L385.9 710.6 L395.2 702.5 L404.5 694.4 L413.8 686.3 L423.1 678.2 L432.4 670.1 L441.7 662.0 L451.1 653.9 L460.4 645.8 L469.7 637.7 L479.0 629.7 L488.3 621.6 L497.6 613.6 L506.9 605.5 L516.2 597.4 L525.5 589.4 L534.8 581.3 L544.1 573.3 L553.4 565.3 L562.7 557.2 L572.0 549.2 L581.3 541.2 L590.6 533.2 L599.9 525.2 L609.2 517.2 L618.5 509.2 L627.8 501.2 L637.1 493.2 L646.4 485.2 L655.8 477.2 L665.1 469.3 L674.4 461.3 L683.7 453.4 L693.0 445.4 L702.3 437.5 L711.6 429.6 L720.9 421.7 L730.2 413.8 L739.5 405.9 L748.8 398.0 L758.1 390.2 L767.4 382.3 L776.7 374.5 L786.0 366.7 L795.3 359.0 L804.6 351.2 L813.9 343.5 L823.2 335.8 L832.5 328.2 L841.8 320.5 L851.2 313.0 L860.5 305.4 L869.8 297.9 L879.1 290.5 L888.4 283.1 L897.7 275.7 L907.0 268.5 L916.3 261.3 L925.6 254.2 L934.9 247.1 L944.2 240.2 L953.5 233.3 L962.8 226.5 L972.1 219.9 L981.4 213.3 L990.7 206.9 L1000.0 200.6 L1009.3 194.4 L1018.6 188.4 L1027.9 182.5 L1037.2 176.8 L1046.6 171.2 L1055.9 165.8 L1065.2 160.5 L1074.5 155.4 L1083.8 150.5 L1093.1 145.8 L1102.4 141.2 L1111.7 136.9 L1121.0 132.7 L1130.3 128.7 L1139.6 124.9 L1148.9 121.3 L1158.2 117.8 L1167.5 114.6 L1176.8 111.6 L1186.1 108.7 L1195.4 106.1 L1204.7 103.6 L1214.0 101.4 L1223.3 99.3 L1232.6 97.4 L1242.0 95.8 L1251.3 94.3 L1260.6 93.0 L1269.9 91.9 L1279.2 91.0 L1288.5 90.3 L1297.8 89.7 L1307.1 89.4 L1316.4 89.2 L1325.7 89.2 L1335.0 89.5 L1344.3 89.9 L1353.6 90.4 L1362.9 91.2 L1372.2 92.2 L1381.5 93.3 L1390.8 94.6 L1400.1 96.1 L1409.4 97.7 L1418.7 99.6 L1428.0 101.6 L1437.4 103.8 L1446.7 106.2 L1456.0 108.7 L1465.3 111.4 L1474.6 114.3 L1483.9 117.4 L1493.2 120.6 L1502.5 124.0 L1511.8 127.6 L1521.1 131.4 L1530.4 135.3 L1539.7 139.4 L1549.0 143.7 L1558.3 148.1 L1567.6 152.7 L1576.9 157.5 L1586.2 162.4 L1595.5 167.5 L1604.8 172.8 L1614.1 178.2 L1623.4 183.8 L1632.7 189.6 L1642.1 195.5 L1651.4 201.6 L1660.7 207.9 L1670.0 214.3 L1679.3 220.9 L1688.6 227.7 L1697.9 234.6 L1707.2 241.7 L1716.5 248.9 L1725.8 256.3 L1735.1 263.9 L1744.4 271.7 L1753.7 279.6 L1763.0 287.6 L1772.3 295.8 L1781.6 304.2 L1790.9 312.8 L1800.2 321.5 L1809.5 330.4 L1818.8 339.4 L1828.1 348.6 L1837.5 358.0 L1846.8 367.5 L1856.1 377.2 L1865.4 387.0 L1874.7 397.0 L1884.0 407.2 L1893.3 417.5 L1902.6 428.0 L1911.9 438.6 L1921.2 449.4 L1930.5 460.4 L1939.8 471.5 L1949.1 482.8 L1958.4 494.2 L1967.7 505.8 L1977.0 517.6 L1986.3 529.5 L1995.6 541.6 L2004.9 553.9 L2014.2 566.3 L2023.5 578.8 L2032.9 591.5 L2042.2 604.4 L2051.5 617.4 L2060.8 630.6 L2070.1 644.0 L2079.4 657.5 L2088.7 671.2 L2098.0 685.0 L2107.3 699.0 L2116.6 713.2 L2125.9 727.5 L2135.2 741.9 L2144.5 756.6 L2153.8 771.3 L2163.1 786.3 L2172.4 801.4 L2181.7 816.6 L2191.0 832.0 L2200.3 847.6 L2209.6 863.4 L2218.9 879.2 L2220.8 882.4"/>
</g>
<g font-size="45.4" fill="#262626" text-anchor="middle">
<text transform="translate(153.8 972.9) scale(1 1.045)">0</text>
<text transform="translate(464.0 972.9) scale(1 1.045)">100</text>
<text transform="translate(774.1 972.9) scale(1 1.045)">200</text>
<text transform="translate(1084.3 972.9) scale(1 1.045)">300</text>
<text transform="translate(1394.4 972.9) scale(1 1.045)">400</text>
<text transform="translate(1704.6 972.9) scale(1 1.045)">500</text>
<text transform="translate(2014.7 972.9) scale(1 1.045)">600</text>
<text transform="translate(2324.9 972.9) scale(1 1.045)">700</text>
</g>
<g font-size="45.4" fill="#0072BD" text-anchor="end">
<text transform="translate(137.5 930.6) scale(1 1.045)">0</text>
<text transform="translate(137.5 762.7) scale(1 1.045)">20</text>
<text transform="translate(137.5 594.8) scale(1 1.045)">40</text>
<text transform="translate(137.5 427.0) scale(1 1.045)">60</text>
<text transform="translate(137.5 259.1) scale(1 1.045)">80</text>
<text transform="translate(137.5 91.2) scale(1 1.045)">100</text>
</g>
<g font-size="45" fill="#D95319">
<text transform="translate(2341 930.6) scale(1 1.045)">0</text>
<text transform="translate(2341 790.7) scale(1 1.045)">0.5</text>
<text transform="translate(2341 650.8) scale(1 1.045)">1</text>
<text transform="translate(2341 510.9) scale(1 1.045)">1.5</text>
<text transform="translate(2341 371.0) scale(1 1.045)">2</text>
<text transform="translate(2341 231.1) scale(1 1.045)">2.5</text>
<text transform="translate(2341 91.2) scale(1 1.045)">3</text>
<text x="2326.9" y="58.9" font-size="54">×</text>
<text x="2360.2" y="52.7">10<tspan font-size="36" dy="-22.4">4</tspan></text>
</g>
<text x="1238.9" y="1035.7" font-size="49.5" fill="#262626" text-anchor="middle">Voltage (V)</text>
<text transform="translate(46.6 495.5) rotate(-90)" font-size="49.5" fill="#0072BD" text-anchor="middle">Current (A)</text>
<text transform="translate(2451.1 495.8) rotate(-90)" font-size="45" fill="#D95319" text-anchor="middle">Power (W)</text>
<rect x="1596.4" y="82.1" width="488.8" height="85.5" fill="none" stroke="#0000FF" stroke-width="7.2"/>
<path d="M179.0 75.0 H2299.0" stroke="#262626" stroke-width="7.4"/>
<text transform="translate(1615 136.9) scale(1 1.03)" font-size="37.45" font-weight="bold" fill="#000">Temperature = 25 <tspan font-size="30" dx="2.8" dy="-15.8">o</tspan><tspan dx="0.8" dy="15.8" font-size="39">C</tspan></text>
<g fill="#000">
<polygon points="513.4,127.2 553.1,108.6 539.6,102.5 581.7,99.2 552.3,129.5 556.2,115.2 516.4,133.8"/>
<polygon points="513.7,238.3 553.2,219.8 539.7,213.7 581.8,210.4 552.4,240.7 556.3,226.4 516.9,244.9"/>
<polygon points="513.7,358.1 553.2,339.6 539.7,333.5 581.8,330.2 552.4,360.5 556.3,346.2 516.9,364.7"/>
<polygon points="513.8,474.7 553.1,456.7 539.7,450.4 581.8,447.5 552.1,477.5 556.1,463.3 516.8,481.3"/>
<polygon points="513.8,595.1 553.1,576.9 539.7,570.7 581.8,567.6 552.2,597.7 556.2,583.5 516.8,601.7"/>
<polygon points="1903.2,245.9 1837.7,313.8 1852.5,314.7 1814.3,332.8 1831.0,294.0 1832.4,308.7 1898.0,240.9"/>
<polygon points="1935.4,299.3 1870.0,366.8 1884.8,367.7 1846.6,385.7 1863.4,347.0 1864.8,361.7 1930.2,294.3"/>
<polygon points="1959.2,358.3 1893.9,425.9 1908.7,426.8 1870.5,444.9 1887.2,406.1 1888.7,420.9 1954.0,353.3"/>
<polygon points="1975.8,420.6 1911.0,487.6 1925.8,488.6 1887.6,506.6 1904.4,467.8 1905.8,482.6 1970.6,415.6"/>
<polygon points="1994.1,498.4 1928.9,565.8 1943.7,566.8 1905.5,584.8 1922.3,546.1 1923.7,560.8 1988.9,493.4"/>
</g>
<g font-size="37.2" fill="#000">
<text x="337.9" y="151.5">1400 W/m<tspan font-size="31.5" dx="0.7" dy="-17.0">2</tspan></text>
<text x="337.9" y="261.5">1200 W/m<tspan font-size="31.5" dx="0.7" dy="-17.0">2</tspan></text>
<text x="337.9" y="382.6">1000 W/m<tspan font-size="31.5" dx="0.7" dy="-17.0">2</tspan></text>
<text x="357.0" y="497.8">800 W/m<tspan font-size="31.5" dx="0.7" dy="-17.0">2</tspan></text>
<text x="357.0" y="618.8">600 W/m<tspan font-size="31.5" dx="0.7" dy="-17.0">2</tspan></text>
<text x="1917.4" y="236.1">1400 W/m<tspan font-size="31.5" dx="0.7" dy="-17.0">2</tspan></text>
<text x="1948.2" y="289.7">1200 W/m<tspan font-size="31.5" dx="0.7" dy="-17.0">2</tspan></text>
<text x="1973.1" y="349.2">1000 W/m<tspan font-size="31.5" dx="0.7" dy="-17.0">2</tspan></text>
<text x="1989.8" y="411.1">800 W/m<tspan font-size="31.5" dx="0.7" dy="-17.0">2</tspan></text>
<text x="2007.0" y="486.6">600 W/m<tspan font-size="31.5" dx="0.7" dy="-17.0">2</tspan></text>
</g>
</svg></body></html>
